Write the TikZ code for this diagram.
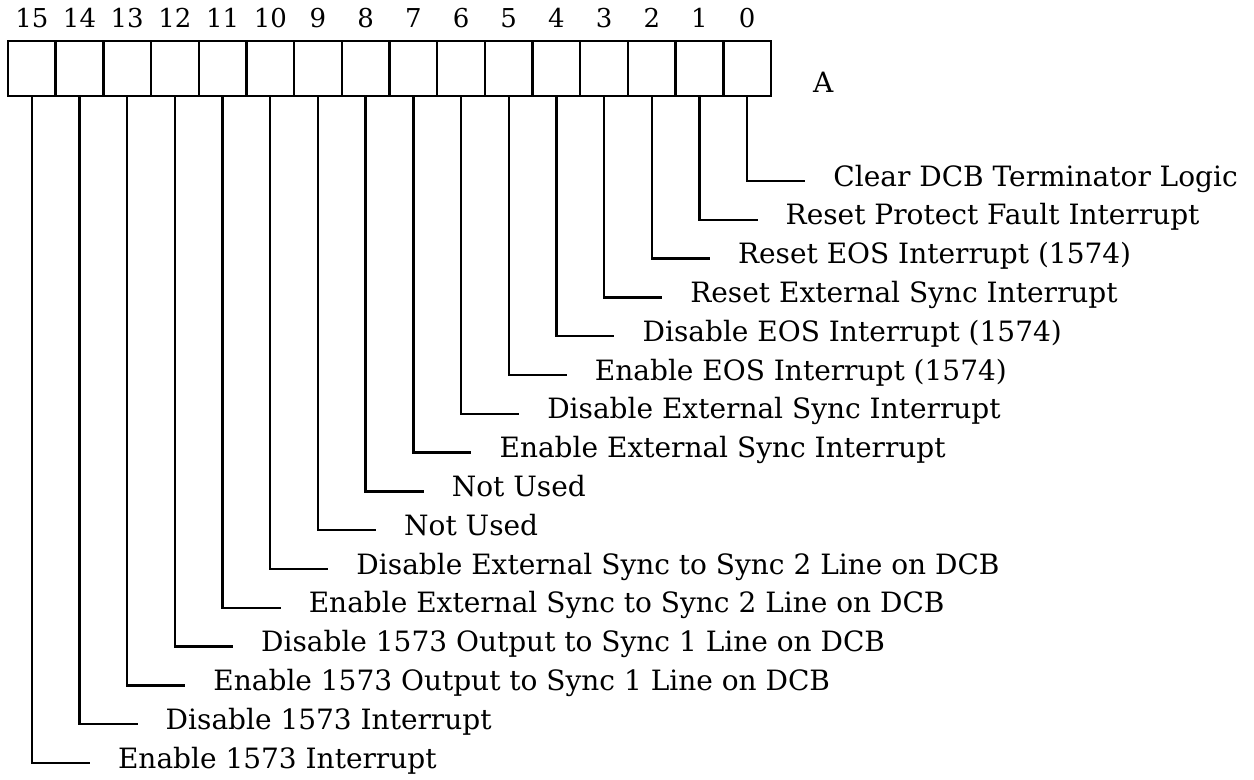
\documentclass[tikz,border=0pt]{standalone}
\usepackage{fontspec}
\setmainfont{DejaVu Serif}
\usepackage{tikz}
\usetikzlibrary{positioning}
\tikzset{
  Cell/.style={draw, minimum width=23.85pt, minimum height=27.5pt, inner sep=0pt, outer sep=0pt}, % Registerfeld
  BitNo/.style={inner sep=0pt, font=\fontsize{13}{15}\selectfont}, % Bitnummer
  Desc/.style={anchor=mid west, inner sep=0pt, font=\fontsize{14}{16}\selectfont}, % Beschreibung
  Wire/.style={shorten >=13.5pt} % Leitung zum Text
}

\begin{document}
\begin{tikzpicture}[x=0.5pt, y=-0.5pt, line width=1.2pt]
\useasboundingbox (0,0) rectangle (1254,780);

%Register
\foreach \i in {0,...,15}
  \node[Cell] (b\i) at ({8+(15.5-\i)*47.69}, 68.5) {};

%Bitnummern
\foreach \i in {0,...,15}
  \node[BitNo, above=6pt of b\i] (n\i) {\i};

\node[Desc, anchor=west] (A) at (812,82) {A};

%Beschriftungen und Leitungen
\foreach \i/\txt in {
  0/{Clear DCB Terminator Logic},
  1/{Reset Protect Fault Interrupt},
  2/{Reset EOS Interrupt (1574)},
  3/{Reset External Sync Interrupt},
  4/{Disable EOS Interrupt (1574)},
  5/{Enable EOS Interrupt (1574)},
  6/{Disable External Sync Interrupt},
  7/{Enable External Sync Interrupt},
  8/{Not Used},
  9/{Not Used},
  10/{Disable External Sync to Sync 2 Line on DCB},
  11/{Enable External Sync to Sync 2 Line on DCB},
  12/{Disable 1573 Output to Sync 1 Line on DCB},
  13/{Enable 1573 Output to Sync 1 Line on DCB},
  14/{Disable 1573 Interrupt},
  15/{Enable 1573 Interrupt}}
{
  \node[Desc] (t\i) at ({8+(15.5-\i)*47.69+85}, {181+\i*38.8}) {\txt};
  \draw[Wire] (b\i.south) |- (t\i.mid west);
}

\end{tikzpicture}
\end{document}
